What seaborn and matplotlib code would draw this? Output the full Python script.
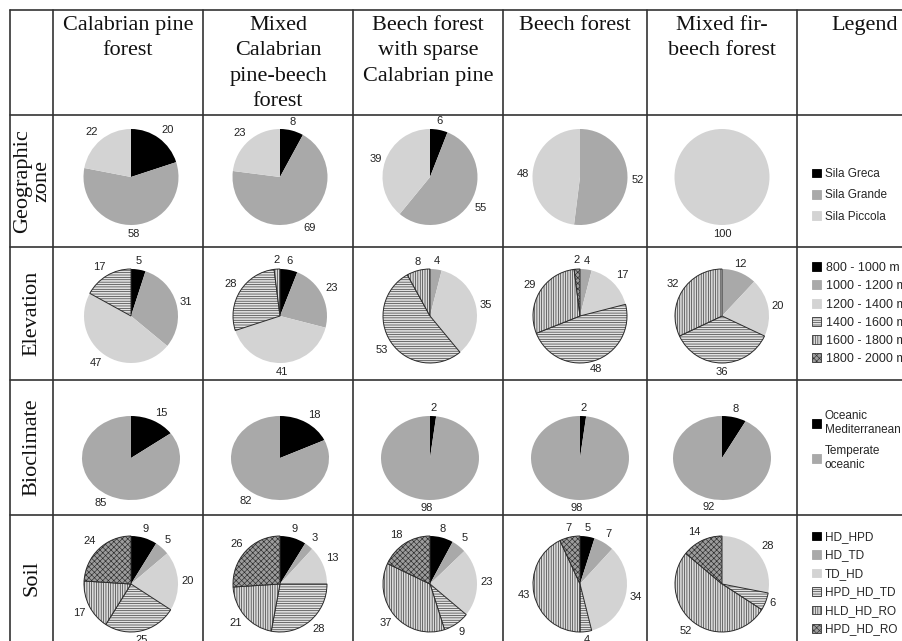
import numpy as np
import matplotlib
matplotlib.use("Agg")
import matplotlib.pyplot as plt
from matplotlib.patches import Patch
import seaborn as sns

# column / row headers
columns = ["Calabrian pine\nforest", "Mixed\nCalabrian\npine-beech\nforest",
           "Beech forest\nwith sparse\nCalabrian pine", "Beech forest",
           "Mixed fir-\nbeech forest"]
rows = ["Geographic\nzone", "Elevation", "Bioclimate", "Soil"]

# classes and percentages (one list per forest type)
geo_classes = ["Sila Greca", "Sila Grande", "Sila Piccola"]
geo_values = [[20, 58, 22], [8, 69, 23], [6, 55, 39], [0, 52, 48], [0, 0, 100]]

elev_classes = ["800 - 1000 m", "1000 - 1200 m", "1200 - 1400 m",
                "1400 - 1600 m", "1600 - 1800 m", "1800 - 2000 m"]
elev_values = [[5, 31, 47, 17, 0, 0], [6, 23, 41, 28, 2, 0], [0, 4, 35, 53, 8, 0],
               [0, 4, 17, 48, 29, 2], [0, 12, 20, 36, 32, 0]]

bio_classes = ["Oceanic\nMediterranean", "Temperate\noceanic"]
bio_values = [[15, 85], [18, 82], [2, 98], [2, 98], [8, 92]]

soil_classes = ["HD_HPD", "HD_TD", "TD_HD", "HPD_HD_TD", "HLD_HD_RO", "HPD_HD_RO"]
soil_values = [[9, 5, 20, 25, 17, 24], [9, 3, 13, 28, 21, 26], [8, 5, 23, 9, 37, 18],
               [5, 7, 34, 4, 43, 7], [0, 0, 28, 6, 52, 14]]

# shared fill styles for the class order
fills = ["#000000", "#a9a9a9", "#d3d3d3", "#e2e2e2", "#dadada", "#9c9c9c"]
hatches = ["", "", "", "-------", "|||||||", "xxxxxx"]

sns.set_theme(style="white")
plt.rcParams["font.family"] = ["Liberation Sans", "DejaVu Sans"]
plt.rcParams["hatch.linewidth"] = 0.45

W, H = 902, 641
fig = plt.figure(figsize=(W / 100, H / 100), dpi=100)
bg = fig.add_axes([0, 0, 1, 1])
bg.set_xlim(0, W)
bg.set_ylim(H, 0)
bg.axis("off")

# table grid
col_edges = [10, 53, 203, 353, 503, 647, 797]
row_edges = [10, 115, 247, 380, 515]
for x in col_edges:
    bg.plot([x, x], [row_edges[0], H], color="#333333", lw=1.2)
for y in row_edges:
    bg.plot([col_edges[0], W], [y, y], color="#333333", lw=1.2)

serif = ["Liberation Serif", "DejaVu Serif"]
head_x = [128, 278, 428, 575, 722, 865]
for x, lab in zip(head_x, columns + ["Legend"]):
    bg.text(x, 16, lab, ha="center", va="top", fontsize=16, family=serif,
            linespacing=1.45, color="#111111")

row_mid = [181, 313, 447, 578]
for y, lab in zip(row_mid, rows):
    bg.text(32, y, lab, ha="center", va="center", rotation=90, fontsize=16,
            family=serif, linespacing=1.0, color="#111111")

pie_x = [131, 280, 430, 580, 722]
pie_y = [177, 316, 458, 584]
pie_rx = [47.5, 47, 49, 47]
pie_ry = [48, 47, 42, 48]


def draw_pie(cx, cy, rx, ry, values, n):
    vals = np.array(values, dtype=float)
    keep = vals > 0
    ax = fig.add_axes([(cx - 1.5 * rx) / W, 1 - (cy + 1.5 * ry) / H, 3 * rx / W, 3 * ry / H])
    cols = [c for c, k in zip(fills[:n], keep) if k]
    hs = [h for h, k in zip(hatches[:n], keep) if k]
    wedges, _ = ax.pie(vals[keep], colors=cols, hatch=hs, startangle=90,
                       counterclock=False, wedgeprops=dict(linewidth=0))
    for w, h, v in zip(wedges, hs, vals[keep]):
        if h:
            w.set_edgecolor("#2a2a2a")
            w.set_linewidth(0.7)
        # label just outside the rim, anchored on the side facing the pie
        mid = np.deg2rad((w.theta1 + w.theta2) / 2)
        dx, dy = np.cos(mid), np.sin(mid)
        ha = "left" if dx > 0.38 else ("right" if dx < -0.38 else "center")
        va = "bottom" if dy > 0.38 else ("top" if dy < -0.38 else "center")
        ax.text(1.08 * dx, 1.08 * dy, f"{v:.0f}", ha=ha, va=va, fontsize=8,
                color="#222222")
    ax.set_aspect("auto")
    ax.set_xlim(-1.5, 1.5)
    ax.set_ylim(-1.5, 1.5)
    ax.axis("off")


all_values = [geo_values, elev_values, bio_values, soil_values]
all_classes = [geo_classes, elev_classes, bio_classes, soil_classes]
for r, (vals, classes) in enumerate(zip(all_values, all_classes)):
    for c, v in enumerate(vals):
        draw_pie(pie_x[c], pie_y[r], pie_rx[r], pie_ry[r], v, len(classes))

# legends in the last column
leg_top = [168, 262, 410, 531]
leg_fs = [8.5, 9, 8.5, 8.5]
leg_gap = [0.8, 0.5, 0.8, 0.55]
for r, classes in enumerate(all_classes):
    n = len(classes)
    handles = [Patch(facecolor=fills[i], hatch=hatches[i],
                     edgecolor="#333333" if hatches[i] else fills[i], lw=0.6)
               for i in range(n)]
    fig.legend(handles, classes, loc="upper left",
               bbox_to_anchor=(812 / W, 1 - leg_top[r] / H),
               bbox_transform=fig.transFigure, frameon=False, fontsize=leg_fs[r],
               handlelength=0.75, handleheight=0.75, handletextpad=0.35,
               labelspacing=leg_gap[r], borderpad=0, borderaxespad=0)

fig.savefig("out.png", dpi=100)
